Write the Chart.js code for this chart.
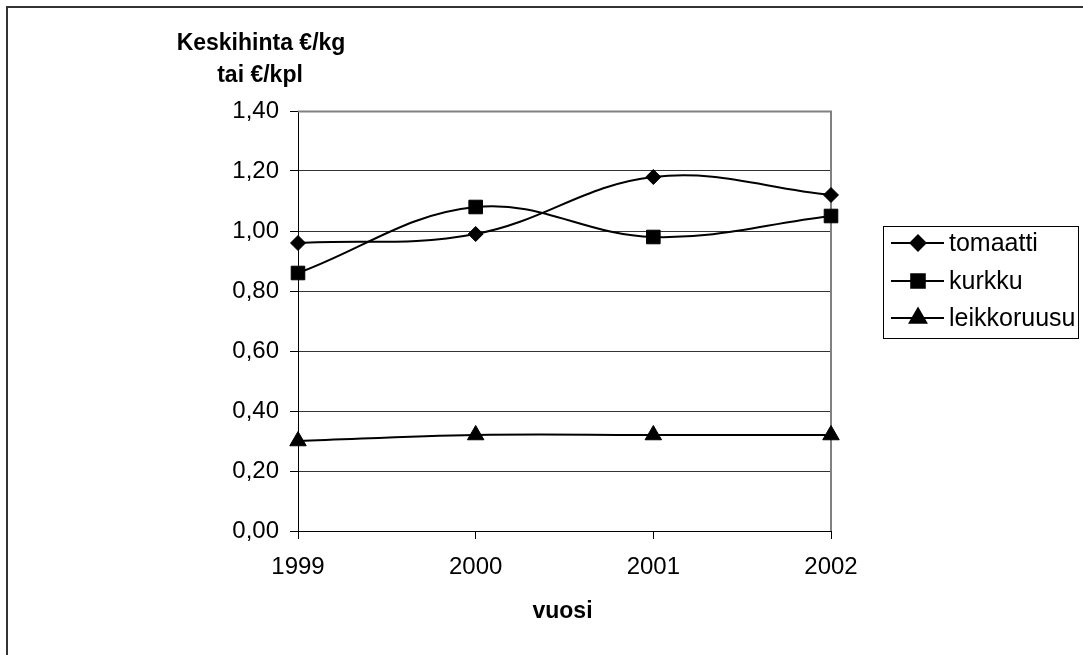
<!DOCTYPE html>
<html>
<head>
<meta charset="utf-8">
<script src="https://cdn.jsdelivr.net/npm/chart.js@4/dist/chart.umd.min.js"></script>
<style>
  html, body { margin: 0; padding: 0; background: #fff; }
  #wrap { width: 1083px; height: 655px; position: relative; }
</style>
</head>
<body>
<div id="wrap"><canvas id="c" width="1083" height="655"></canvas></div>
<script>
const categories = ['1999', '2000', '2001', '2002'];
const tomaatti = [0.96, 0.99, 1.18, 1.12];
const kurkku = [0.86, 1.08, 0.98, 1.05];
const leikkoruusu = [0.30, 0.32, 0.32, 0.32];
const seriesNames = ['tomaatti', 'kurkku', 'leikkoruusu'];
const yTickLabels = ['0,00', '0,20', '0,40', '0,60', '0,80', '1,00', '1,20', '1,40'];
const yTitleLines = ['Keskihinta €/kg', 'tai €/kpl'];
const xTitle = 'vuosi';

const FONT = '"Liberation Sans", Arial, sans-serif';

const framePlugin = {
  id: 'frame',
  beforeDraw(chart) {
    const ctx = chart.ctx;
    ctx.save();
    ctx.fillStyle = '#fff';
    ctx.fillRect(0, 0, chart.width, chart.height);
    ctx.strokeStyle = '#333';
    ctx.lineWidth = 2;
    ctx.beginPath();
    ctx.moveTo(7, chart.height + 5);
    ctx.lineTo(7, 7);
    ctx.lineTo(chart.width + 5, 7);
    ctx.stroke();
    ctx.restore();
  },
  beforeDatasetsDraw(chart) {
    const ctx = chart.ctx, a = chart.chartArea;
    ctx.save();
    ctx.strokeStyle = '#808080';
    ctx.lineWidth = 2;
    ctx.beginPath();
    ctx.moveTo(a.left, a.top + 0.5);
    ctx.lineTo(a.right, a.top + 0.5);
    ctx.lineTo(a.right, a.bottom);
    ctx.stroke();
    ctx.restore();
  },
  afterDraw(chart) {
    const ctx = chart.ctx, a = chart.chartArea;
    ctx.save();
    ctx.fillStyle = '#000';
    ctx.font = 'bold 23px ' + FONT;
    ctx.textAlign = 'center';
    ctx.textBaseline = 'middle';
    ctx.fillText(yTitleLines[0], 261, 44);
    ctx.fillText(yTitleLines[1], 260, 76);
    ctx.fillText(xTitle, (a.left + a.right) / 2 - 2, 612);

    // legend
    const lx = 883, ly = 226, lw = 195, lh = 112;
    ctx.strokeStyle = '#000';
    ctx.lineWidth = 1;
    ctx.strokeRect(lx + 0.5, ly + 0.5, lw, lh);
    const rows = [243, 281, 318];
    ctx.font = '25px ' + FONT;
    ctx.textAlign = 'left';
    chart.data.datasets.forEach((ds, i) => {
      const y = rows[i];
      ctx.strokeStyle = '#000';
      ctx.lineWidth = 2;
      ctx.beginPath();
      ctx.moveTo(891, y);
      ctx.lineTo(944, y);
      ctx.stroke();
      Chart.helpers.drawPoint(ctx, {
        pointStyle: ds.pointStyle,
        radius: ds.pointRadius,
        borderWidth: 1
      }, 918, y);
      ctx.fillStyle = '#000';
      ctx.fill();
      ctx.fillText(ds.label, 949, y + 1);
    });
    ctx.restore();
  }
};

function mk(label, data, style, r) {
  return {
    label: label,
    data: data,
    borderColor: '#000',
    backgroundColor: '#000',
    borderWidth: 2,
    pointStyle: style,
    pointRadius: r,
    pointHoverRadius: r,
    pointBorderWidth: 1,
    pointBackgroundColor: '#000',
    pointBorderColor: '#000',
    tension: 0.38,
    clip: false
  };
}

new Chart(document.getElementById('c'), {
  type: 'line',
  data: {
    labels: categories,
    datasets: [
      mk(seriesNames[0], tomaatti, 'rectRot', 7.5),
      mk(seriesNames[1], kurkku, 'rect', 9.6),
      mk(seriesNames[2], leikkoruusu, 'triangle', 9.5)
    ]
  },
  options: {
    responsive: false,
    animation: false,
    events: [],
    layout: { padding: { left: 198, top: 111, right: 252, bottom: 64 } },
    plugins: { legend: { display: false }, tooltip: { enabled: false }, title: { display: false } },
    scales: {
      x: {
        type: 'category',
        offset: false,
        grid: { display: true, drawOnChartArea: false, drawTicks: true, tickLength: 8, color: '#000', tickColor: '#000' },
        border: { display: true, color: '#000', width: 1 },
        ticks: { color: '#000', font: { family: FONT, size: 24 }, padding: 14, maxRotation: 0, autoSkip: false },
        afterFit(s) { s.height = 60; }
      },
      y: {
        min: 0,
        max: 1.4,
        grid: { color: '#333', tickColor: '#000', tickLength: 8, drawTicks: true },
        border: { display: true, color: '#000', width: 1 },
        ticks: {
          stepSize: 0.2,
          color: '#000',
          font: { family: FONT, size: 24 },
          padding: 11,
          callback: (v, i) => yTickLabels[i]
        },
        afterFit(s) { s.width = 100; }
      }
    }
  },
  plugins: [framePlugin]
});
</script>
</body>
</html>
